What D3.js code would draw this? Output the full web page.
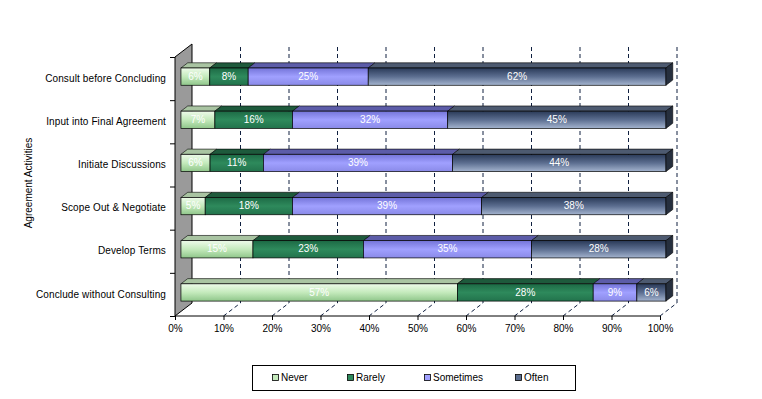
<!DOCTYPE html>
<html>
<head>
<meta charset="utf-8">
<script src="https://cdn.jsdelivr.net/npm/d3@7"></script>
<style>
  body { margin: 0; background: #fff; }
  svg { display: block; font-family: "Liberation Sans", Arial, sans-serif; }
</style>
</head>
<body>
<svg id="chart" width="762" height="399"></svg>
<script>
// data
const categories = ["Consult before Concluding", "Input into Final Agreement", "Initiate Discussions",
    "Scope Out & Negotiate", "Develop Terms", "Conclude without Consulting"];
const seriesNames = ["Never", "Rarely", "Sometimes", "Often"];
const never = [6, 7, 6, 5, 15, 57];
const rarely = [8, 16, 11, 18, 23, 28];
const sometimes = [25, 32, 39, 39, 35, 9];
const often = [62, 45, 44, 38, 28, 6];
const tickValues = [0, 0.1, 0.2, 0.3, 0.4, 0.5, 0.6, 0.7, 0.8, 0.9, 1];

const COLORS = {
    Never:     { stops: ["#eefbea", "#c4eabc", "#8fc68a"], top: "#a9c4a2", side: "#5d7d58" },
    Rarely:    { stops: ["#1d6a45", "#2e8a5c", "#22734c"], top: "#1e5a3c", side: "#15402b" },
    Sometimes: { stops: ["#7474d8", "#a0a0ff", "#8a8ae8"], top: "#5c5ca8", side: "#3a3a70" },
    Often:     { stops: ["#2a3a58", "#5c6e90", "#a4b4cf"], top: "#4d5a70", side: "#262f3e" }
};

const svg = d3.select("#chart");
const seriesVals = [never, rarely, sometimes, often];

// 3D depth offset of the plot
const DX = 17, DY = -13;
const x = d3.scaleLinear().domain([0, 1]).range([175, 660]);
const yTop = 57, yBot = 316;
const y = d3.scaleBand().domain(categories).range([yTop, yBot])
    .paddingInner(0.6).paddingOuter(0.3).align(0.6);
const P = (v, py, d) => [x(v) + DX * d, py + DY * d];
const poly = pts => pts.map(p => p.join(",")).join(" ");

// gradients
const defs = svg.append("defs");
seriesNames.forEach((s, i) => {
    const g = defs.append("linearGradient").attr("id", "g" + i)
        .attr("x1", 0).attr("y1", 0).attr("x2", 0).attr("y2", 1);
    COLORS[s].stops.forEach((c, k) => g.append("stop").attr("offset", k / 2).attr("stop-color", c));
});

// left wall
svg.append("polygon")
    .attr("points", poly([P(0, yTop, 0), P(0, yTop, 1), P(0, yBot, 1), P(0, yBot, 0)]))
    .attr("fill", "#9a9a9a").attr("stroke", "#000").attr("stroke-width", 1);

// back gridlines
tickValues.slice(1).forEach(t => {
    const a = P(t, yBot, 1), b = P(t, yTop, 1);
    svg.append("line").attr("x1", a[0]).attr("y1", a[1]).attr("x2", b[0]).attr("y2", b[1])
        .attr("stroke", "#102040").attr("stroke-dasharray", "4,3");
    const f = P(t, yBot, 0);
    svg.append("line").attr("x1", f[0]).attr("y1", f[1]).attr("x2", a[0]).attr("y2", a[1])
        .attr("stroke", "#102040").attr("stroke-dasharray", "4,3");
});

// bottom axis
svg.append("g")
    .attr("transform", `translate(0,${yBot})`)
    .call(d3.axisBottom(x).tickValues(tickValues).tickFormat(d3.format(".0%")).tickSize(4))
    .call(g => g.select(".domain").attr("d", `M${x(0)},0H${x(1)}`))
    .call(g => g.selectAll("text").attr("font-size", 10).attr("font-family", "Liberation Sans, Arial").attr("dy", "0.9em"));

// left axis
svg.append("g")
    .attr("transform", `translate(${x(0)},0)`)
    .call(d3.axisLeft(d3.scaleLinear().domain([0, categories.length]).range([yBot, yTop]))
        .ticks(categories.length).tickFormat("").tickSize(5))
    .call(g => g.select(".domain").remove());

categories.forEach(c => {
    svg.append("text").attr("x", 166).attr("y", y(c) + y.bandwidth() / 2 - 2)
        .attr("text-anchor", "end").attr("dominant-baseline", "middle")
        .attr("font-size", 10).attr("letter-spacing", 0.12).text(c);
});

svg.append("text").attr("transform", "translate(32,183) rotate(-90)")
    .attr("text-anchor", "middle").attr("font-size", 10).text("Agreement Activities");

// bars
const D0 = 0.35, D1 = 0.75;
categories.forEach((c, ci) => {
    const total = d3.sum(seriesVals, s => s[ci]);
    let acc = 0;
    const y0 = y(c), y1 = y(c) + y.bandwidth();
    seriesVals.forEach((s, si) => {
        const a = acc / total, b = (acc + s[ci]) / total;
        acc += s[ci];
        const col = COLORS[seriesNames[si]];
        // top face
        svg.append("polygon")
            .attr("points", poly([P(a, y0, D0), P(a, y0, D1), P(b, y0, D1), P(b, y0, D0)]))
            .attr("fill", col.top).attr("stroke", "#000").attr("stroke-width", 0.6);
        // front face
        const f0 = P(a, y0, D0), f1 = P(b, y1, D0);
        svg.append("rect").attr("x", f0[0]).attr("y", f0[1])
            .attr("width", f1[0] - f0[0]).attr("height", f1[1] - f0[1])
            .attr("fill", `url(#g${si})`).attr("stroke", "#000").attr("stroke-width", 0.7);
        // right end face
        if (si === seriesVals.length - 1) {
            svg.append("polygon")
                .attr("points", poly([P(b, y0, D0), P(b, y0, D1), P(b, y1, D1), P(b, y1, D0)]))
                .attr("fill", col.side).attr("stroke", "#000").attr("stroke-width", 0.6);
        }
        svg.append("text").attr("x", (f0[0] + f1[0]) / 2).attr("y", (f0[1] + f1[1]) / 2 + 0.5)
            .attr("text-anchor", "middle").attr("dominant-baseline", "middle")
            .attr("fill", "#fff").attr("font-size", 10).text(s[ci] + "%");
    });
});

// legend
const legend = svg.append("g");
legend.append("rect").attr("x", 252.5).attr("y", 365.5).attr("width", 323).attr("height", 25)
    .attr("fill", "#fff").attr("stroke", "#000");
const legX = [272, 347, 424, 515];
seriesNames.forEach((s, i) => {
    legend.append("rect").attr("x", legX[i] + 0.5).attr("y", 374.5).attr("width", 6).attr("height", 6)
        .attr("fill", COLORS[s].stops[1]).attr("stroke", "#000").attr("stroke-width", 0.8);
    legend.append("text").attr("x", legX[i] + 9).attr("y", 378).attr("dominant-baseline", "middle")
        .attr("font-size", 10).text(s);
});
</script>
</body>
</html>
